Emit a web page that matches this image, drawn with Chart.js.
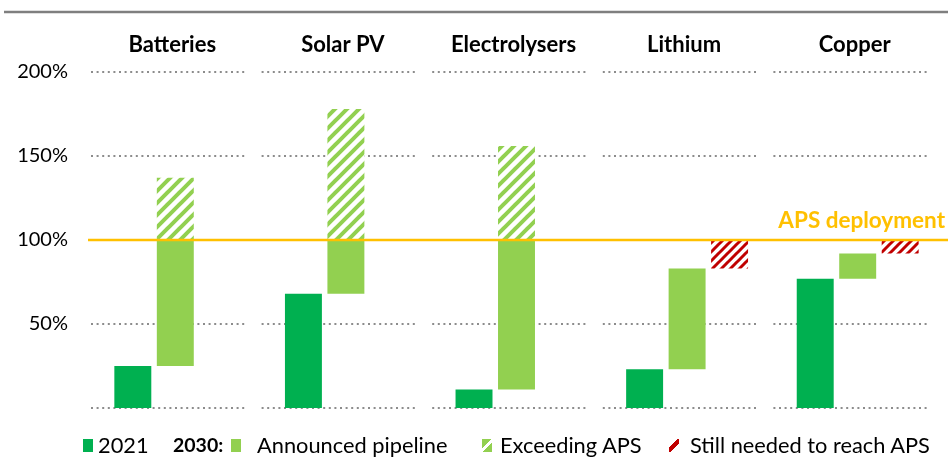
<!DOCTYPE html>
<html>
<head>
<meta charset="utf-8">
<script src="https://cdn.jsdelivr.net/npm/chart.js@4/dist/chart.umd.min.js"></script>
<style>
  html, body { margin: 0; padding: 0; background: #fff; }
  #wrap { position: relative; width: 948px; height: 457px; overflow: hidden; font-family: Lato, "Liberation Sans", sans-serif; }
  #c { position: absolute; left: 0; top: 0; }
  .lg { position: absolute; top: 433px; font-size: 21.8px; line-height: 24px; color: #000; white-space: nowrap; }
  .sw { position: absolute; top: 439px; width: 10px; height: 13px; }
</style>
</head>
<body>
<div id="wrap">
  <canvas id="c" width="948" height="457"></canvas>
  <div class="sw" style="left:83px;background:#00B050"></div>
  <div class="lg" style="left:98px">2021</div>
  <div class="lg" style="left:173px;font-weight:bold;font-size:19.5px">2030:</div>
  <div class="sw" style="left:231px;background:#92D050"></div>
  <div class="lg" style="left:257px">Announced pipeline</div>
  <div class="sw" style="left:482px;background:linear-gradient(135deg,#92D050 0 40%,#fff 40% 58%,#92D050 58% 100%)"></div>
  <div class="lg" style="left:500px">Exceeding APS</div>
  <div class="sw" style="left:669px;background:linear-gradient(135deg,#fff 0 35%,#C00000 35% 62%,#fff 62% 100%)"></div>
  <div class="lg" style="left:690px">Still needed to reach APS</div>
</div>
<script>
// ---- data ----
const categories = ['Batteries', 'Solar PV', 'Electrolysers', 'Lithium', 'Copper'];
const share2021 = [25, 68, 11, 23, 77];          // 2021 capacity as % of APS 2030 deployment
const announced2030 = [137, 178, 156, 83, 92];   // 2030 announced pipeline as % of APS deployment
const yTicks = [0, 50, 100, 150, 200];
const apsLevel = 100;

// ---- derived bar ranges ----
const pipelineBars = categories.map((c, i) => [share2021[i], Math.min(announced2030[i], apsLevel)]);
const exceedingBars = categories.map((c, i) => announced2030[i] > apsLevel ? [apsLevel, announced2030[i]] : null);
const neededBars = categories.map((c, i) => announced2030[i] < apsLevel ? [announced2030[i], apsLevel] : null);

function hatch(color, size, lw) {
  const cv = document.createElement('canvas');
  cv.width = size; cv.height = size;
  const g = cv.getContext('2d');
  g.fillStyle = '#fff'; g.fillRect(0, 0, size, size);
  g.strokeStyle = color; g.lineWidth = lw; g.lineCap = 'square';
  for (let k = -1; k <= 1; k++) {
    g.beginPath();
    g.moveTo(k * size - 1, size + 1);
    g.lineTo(k * size + size + 1, -1);
    g.stroke();
  }
  return g.createPattern(cv, 'repeat');
}
const ctx0 = document.getElementById('c').getContext('2d');
const greenHatch = hatch('#92D050', 12, 4);
const redHatch = hatch('#C00000', 9, 3);

const decor = {
  id: 'decor',
  beforeDatasetsDraw(chart) {
    const { ctx, scales: { x, y } } = chart;
    ctx.save();
    // top rule
    ctx.strokeStyle = '#7f7f7f'; ctx.lineWidth = 2.5;
    ctx.beginPath(); ctx.moveTo(4, 12); ctx.lineTo(948, 12); ctx.stroke();
    // dotted grid segments per group
    const half = (x.getPixelForValue(1) - x.getPixelForValue(0)) / 2;
    ctx.strokeStyle = '#8c8c8c'; ctx.lineWidth = 2; ctx.setLineDash([2, 3.6]);
    yTicks.forEach(v => {
      const py = Math.round(y.getPixelForValue(v));
      categories.forEach((c, i) => {
        const cx = x.getPixelForValue(i);
        ctx.beginPath();
        ctx.moveTo(cx - half + 1, py); ctx.lineTo(cx + half - 13, py);
        ctx.stroke();
      });
    });
    ctx.restore();
  },
  afterDatasetsDraw(chart) {
    const { ctx, scales: { y } } = chart;
    const py = y.getPixelForValue(apsLevel);
    ctx.save();
    ctx.strokeStyle = '#FFC000'; ctx.lineWidth = 2.5;
    ctx.beginPath(); ctx.moveTo(88, py); ctx.lineTo(948, py); ctx.stroke();
    ctx.fillStyle = '#FFC000';
    ctx.font = 'bold 22.5px Lato, "Liberation Sans", sans-serif';
    ctx.textAlign = 'right'; ctx.textBaseline = 'alphabetic';
    ctx.fillText('APS deployment', 945, py - 12);
    ctx.restore();
  }
};

new Chart(ctx0, {
  type: 'bar',
  data: {
    labels: categories,
    datasets: [
      { label: '2021', data: share2021.map(v => [0, v]), backgroundColor: '#00B050', stack: 's1' },
      { label: 'Announced pipeline', data: pipelineBars, backgroundColor: '#92D050', stack: 's2' },
      { label: 'Exceeding APS', data: exceedingBars, backgroundColor: greenHatch, stack: 's2' },
      { label: 'Still needed to reach APS', data: neededBars, backgroundColor: redHatch, stack: 's3' }
    ]
  },
  options: {
    responsive: false,
    animation: false,
    events: [],
    layout: { padding: { left: 0, right: 5, top: 0, bottom: 49 } },
    datasets: { bar: { categoryPercentage: 0.747, barPercentage: 0.87, borderWidth: 0 } },
    plugins: { legend: { display: false }, tooltip: { enabled: false } },
    scales: {
      x: {
        position: 'top',
        grid: { display: false, drawTicks: false },
        border: { display: false },
        ticks: { color: '#000', padding: 14, labelOffset: -3, font: { family: 'Lato', size: 22, weight: 'bold' } },
        afterFit(s) { s.height = 72; }
      },
      y: {
        stacked: false,
        min: 0, max: 200,
        grid: { display: false, drawTicks: false },
        border: { display: false },
        afterBuildTicks(s) { s.ticks = yTicks.map(v => ({ value: v })); },
        ticks: {
          color: '#000', padding: 22,
          font: { family: 'Lato', size: 20 },
          callback: v => v === 0 ? '' : v + '%'
        },
        afterFit(s) { s.width = 90; }
      }
    }
  },
  plugins: [decor]
});
</script>
</body>
</html>
